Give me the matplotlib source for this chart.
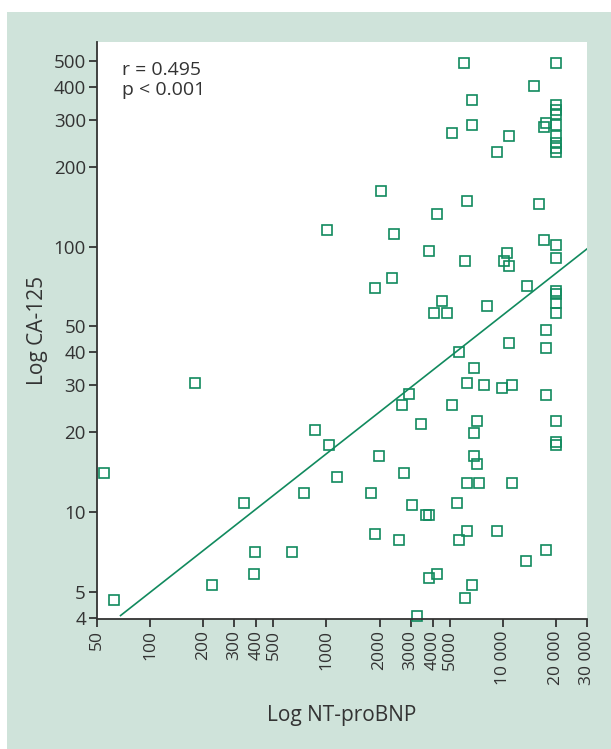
import matplotlib
matplotlib.use('Agg')
import matplotlib.pyplot as plt
from matplotlib.patches import Rectangle

# NT-proBNP (pg/ml) vs CA-125 (U/ml)
nt_probnp = [6010, 20000, 15000, 6670, 20000, 20000, 20000, 20000, 20000, 20000,
             20000, 20000, 17060, 17640, 6670, 5140, 10810, 9250, 2050, 6250,
             4230, 16000, 2410, 1006, 17060, 20000, 3810, 6130, 10540, 10130,
             10810, 20000, 2350, 1880, 13680, 20000, 20000, 20000, 20000, 4510,
             4060, 4820, 8115, 17640, 10810, 17640, 5630, 6900, 6250, 7800,
             9870, 11250, 17640, 2930, 2680, 5140, 3430, 7130, 20000, 6900,
             180, 861, 1033, 55, 1147, 746, 341, 394, 638, 388,
             225, 62.5, 20000, 20000, 1984, 6900, 7130, 2750, 6250, 7310,
             11250, 1790, 3050, 5490, 3660, 3810, 1880, 2575, 6250, 5630,
             9250, 17500, 13500, 4230, 3810, 6670, 6130, 3260]
ca125 = [493, 493, 404, 356, 343, 328, 316, 286, 262, 245,
         235, 227, 281, 291, 286, 269, 262, 227, 162, 149,
         133, 145, 112, 115, 106, 101, 96.6, 88.6, 94.9, 88.6,
         84.8, 90.9, 76.4, 70.1, 71.3, 68.3, 66.5, 61.5, 56.4, 62.3,
         56.4, 56.4, 59.9, 48.3, 43.5, 41.6, 39.9, 35.0, 30.7, 30.0,
         29.4, 30.0, 27.5, 27.9, 25.2, 25.2, 21.5, 22.1, 22.1, 19.8,
         30.7, 20.4, 17.8, 14.0, 13.5, 11.8, 10.8, 7.04, 7.04, 5.86,
         5.29, 4.64, 18.3, 17.8, 16.3, 16.3, 15.2, 14.0, 12.9, 12.9,
         12.9, 11.8, 10.6, 10.8, 9.75, 9.75, 8.26, 7.81, 8.51, 7.81,
         8.51, 7.16, 6.56, 5.86, 5.66, 5.29, 4.76, 4.07]

# regression line end points (log-log)
fit_x = [68, 30000]
fit_y = [4.07, 98]

x_ticks = [50, 100, 200, 300, 400, 500, 1000, 2000, 3000, 4000, 5000, 10000, 20000, 30000]
x_tick_labels = ['50', '100', '200', '300', '400', '500', '1000', '2000', '3000', '4000',
                 '5000', '10 000', '20 000', '30 000']
y_ticks = [4, 5, 10, 20, 30, 40, 50, 100, 200, 300, 400, 500]

green = '#118a5e'
bg = '#cfe3da'
dark = '#333333'

plt.rcParams['font.family'] = ['Open Sans', 'DejaVu Sans']

fig = plt.figure(figsize=(6.11, 7.49), dpi=100)
fig.patches.append(Rectangle((7 / 611, 0), 1, 737 / 749, transform=fig.transFigure,
                             facecolor=bg, edgecolor='none', zorder=-10))

ax = fig.add_axes([97 / 611, 1 - 619 / 749, 490 / 611, 577 / 749])
ax.set_facecolor('white')
ax.set_xscale('log')
ax.set_yscale('log')

ax.plot(nt_probnp, ca125, linestyle='none', marker='s', markersize=6.5,
        markerfacecolor='none', markeredgecolor=green, markeredgewidth=1.2, clip_on=False)
ax.plot(fit_x, fit_y, color=green, linewidth=1.2)

ax.set_xlim(50, 30000)
ax.set_ylim(3.95, 590)
ax.minorticks_off()
ax.set_xticks(x_ticks)
ax.set_xticklabels(x_tick_labels, rotation=90, fontsize=12.5, color=dark)
ax.set_yticks(y_ticks)
ax.set_yticklabels([str(v) for v in y_ticks], fontsize=13.5, color=dark)

for side in ['top', 'right']:
    ax.spines[side].set_visible(False)
for side in ['left', 'bottom']:
    ax.spines[side].set_color(dark)
    ax.spines[side].set_linewidth(1.3)
ax.tick_params(direction='out', length=6, width=1.3, color=dark, pad=2)

ax.set_xlabel('Log NT-proBNP', fontsize=15, color=dark, labelpad=15)
ax.set_ylabel('Log CA-125', fontsize=15, color=dark, labelpad=4)

ax.text(0.052, 0.967, 'r = 0.495\np < 0.001', transform=ax.transAxes, fontsize=14,
        color=dark, va='top', ha='left', linespacing=1.15)

fig.savefig('out.png', dpi=100)
